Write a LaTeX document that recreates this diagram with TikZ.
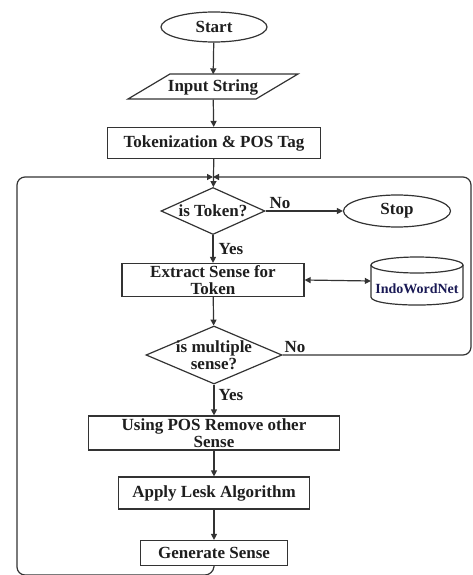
\documentclass[tikz,border=0pt]{standalone}
\usepackage{fontspec}
\setmainfont{Liberation Serif}
\usetikzlibrary{shapes.geometric,arrows.meta}
\definecolor{ln}{HTML}{333333}
\definecolor{tx}{HTML}{1E1E1E}
\definecolor{navy}{HTML}{1A1A55}
\tikzset{
  txt/.style={font=\bfseries\fontsize{17}{16.5}\selectfont, text=tx, align=center, inner sep=0pt},
  boxnode/.style={draw=ln, line width=1.2pt, rectangle, inner sep=0pt, txt},
  termnode/.style={draw=ln, line width=1.2pt, ellipse, inner sep=0pt, txt},
  decnode/.style={draw=ln, line width=1.2pt, diamond, inner sep=0pt},
  flow/.style={draw=ln, line width=1.2pt, -{Triangle[length=6pt,width=6pt]}},
  loopline/.style={draw=ln, line width=1.2pt, rounded corners=8pt, -{Triangle[length=6pt,width=6pt]}},
  lbl/.style={txt}
}
\begin{document}
\begin{tikzpicture}[x=1pt,y=-1pt]
\useasboundingbox (0,0) rectangle (473,575);
% nodes
\node[termnode, minimum width=106pt, minimum height=30pt] (start) at (214,27) {Start};
\node[txt, minimum width=128pt, minimum height=25pt] (in) at (213,87) {Input String};
\draw[ln, line width=1.2pt] (128,99) -- (170,74) -- (298,74) -- (256,99) -- cycle;
\node[boxnode, minimum width=213pt, minimum height=31pt] (tok) at (214,143) {Tokenization \& POS Tag};
\coordinate (m) at (213,177);
\node[decnode, minimum width=104pt, minimum height=47pt] (ist) at (213,211) {};
\node[txt] (istx) at (213,211) {is Token?};
\node[termnode, minimum width=107pt, minimum height=32pt] (stop) at (397,211) {Stop};
\node[boxnode, minimum width=182pt, minimum height=33pt] (ext) at (213,280) {Extract Sense for\\Token};
\node[minimum width=92pt, minimum height=48pt, inner sep=0pt] (db) at (417,281) {};
\draw[ln, line width=1.2pt] (371,265) -- (371,297) .. controls (371,307.7) and (463,307.7) .. (463,297) -- (463,265);
\draw[ln, line width=1.2pt] (417,265) ellipse [x radius=46, y radius=8];
\node[font=\bfseries\fontsize{14}{14}\selectfont, text=navy, inner sep=0pt] (dbx) at (417,289) {IndoWordNet};
\node[decnode, minimum width=136pt, minimum height=58pt] (mul) at (214,355) {};
\node[txt] (mulx) at (214,355) {is multiple\\sense?};
\node[boxnode, minimum width=251pt, minimum height=34pt] (use) at (214,433) {Using POS Remove other\\Sense};
\node[boxnode, minimum width=191pt, minimum height=32pt] (les) at (214,493) {Apply Lesk Algorithm};
\node[boxnode, minimum width=147pt, minimum height=25pt] (gen) at (214,553) {Generate Sense};
% connectors
\draw[flow] (start) -- (in);
\draw[flow] (in) -- (tok);
\draw[flow] (tok) -- (ist);
\draw[flow] (ist) -- (stop);
\node[lbl] (no1) at (280,203) {No};
\draw[flow] (ist) -- (ext);
\node[lbl] (yes1) at (231,249) {Yes};
\draw[draw=ln, line width=1.2pt, {Triangle[length=6pt,width=6pt]}-{Triangle[length=6pt,width=6pt]}] (ext.east) -- (db.west);
\draw[flow] (ext) -- (mul);
\draw[flow] (mul) -- (use);
\node[lbl] (yes2) at (231,395) {Yes};
\node[lbl] (no2) at (295,347) {No};
\draw[flow] (use) -- (les);
\draw[flow] (les) -- (gen);
% loops
\draw[loopline] (gen.south) -- (213,575) -- (17,575) -- (17,177) -- (m);
\draw[loopline] (mul.east) -- (471,355) -- (471,177) -- (m);
\end{tikzpicture}
\end{document}
